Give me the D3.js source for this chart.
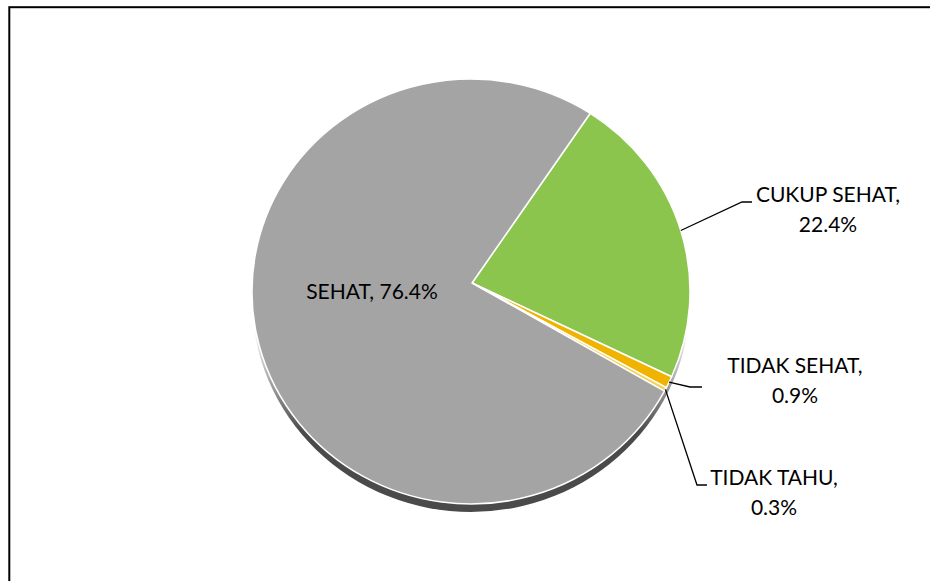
<!DOCTYPE html>
<html>
<head>
<meta charset="utf-8">
<script src="https://cdn.jsdelivr.net/npm/d3@7"></script>
<style>
  html, body { margin: 0; padding: 0; background: #fff; }
  svg { display: block; font-family: Lato, "Open Sans", sans-serif; }
</style>
</head>
<body>
<div id="chart"></div>
<script>
const categories = ['CUKUP SEHAT', 'TIDAK SEHAT', 'TIDAK TAHU', 'SEHAT'];
const values = [22.4, 0.9, 0.3, 76.4];
const colors = ['#8bc54d', '#efb300', '#f4d35a', '#a4a4a4'];

// label placement (layout only)
const labelPos = {
  'CUKUP SEHAT': {x: 828, y: 202, lx: 742, ly: 202, ex: 752},
  'TIDAK SEHAT': {x: 795, y: 373, lx: 690, ly: 387, ex: 702},
  'TIDAK TAHU':  {x: 774, y: 485, lx: 697, ly: 485, ex: 707},
};

const width = 930, height = 581;
const svg = d3.select('#chart').append('svg')
  .attr('width', width)
  .attr('height', height);

svg.append('rect')
  .attr('x', 9.3).attr('y', 7.2)
  .attr('width', 1000).attr('height', 1000)
  .attr('fill', 'none')
  .attr('stroke', '#000')
  .attr('stroke-width', 2);

const cx = 471, cy = 291.5, rx = 219, ry = 212.5;
const apex = [472, 283];
const depth = 8;

const pt = a => [cx + rx * Math.sin(a), cy - ry * Math.cos(a)];
const fmt = p => `${p[0].toFixed(2)},${p[1].toFixed(2)}`;

const pie = d3.pie().sort(null).value(d => d.value)
  .startAngle(33 * Math.PI / 180)
  .endAngle(33 * Math.PI / 180 + 2 * Math.PI);

const data = categories.map((c, i) => ({name: c, value: values[i], color: colors[i]}));
const arcs = pie(data);

// 3D side, fading in towards the bottom
const defs = svg.append('defs');
const grad = defs.append('linearGradient').attr('id', 'sideFade')
  .attr('gradientUnits', 'userSpaceOnUse')
  .attr('x1', 0).attr('y1', cy + 40).attr('x2', 0).attr('y2', cy + 140);
grad.append('stop').attr('offset', 0).attr('stop-color', '#fff').attr('stop-opacity', 0);
grad.append('stop').attr('offset', 1).attr('stop-color', '#fff').attr('stop-opacity', 1);
defs.append('mask').attr('id', 'sideMask')
  .append('rect')
  .attr('x', 0).attr('y', 0)
  .attr('width', width).attr('height', height)
  .attr('fill', 'url(#sideFade)');

svg.append('ellipse')
  .attr('mask', 'url(#sideMask)')
  .attr('cx', cx).attr('cy', cy + depth)
  .attr('rx', rx).attr('ry', ry)
  .attr('fill', '#4a4a4a');

const g = svg.append('g');
g.selectAll('path.slice')
  .data(arcs)
  .join('path')
  .attr('class', 'slice')
  .attr('d', d => {
    const p0 = pt(d.startAngle), p1 = pt(d.endAngle);
    const large = (d.endAngle - d.startAngle) > Math.PI ? 1 : 0;
    return `M${fmt(apex)}L${fmt(p0)}A${rx},${ry} 0 ${large} 1 ${fmt(p1)}Z`;
  })
  .attr('fill', d => d.data.color)
  .attr('stroke', '#fff')
  .attr('stroke-width', 1.5)
  .attr('stroke-linejoin', 'round');

// leader lines
const outer = arcs.filter(d => labelPos[d.data.name]);
svg.selectAll('path.leader')
  .data(outer)
  .join('path')
  .attr('class', 'leader')
  .attr('d', d => {
    const mid = (d.startAngle + d.endAngle) / 2;
    const p = pt(mid);
    const l = labelPos[d.data.name];
    return `M${fmt(p)}L${l.lx},${l.ly}L${l.ex},${l.ly}`;
  })
  .attr('fill', 'none')
  .attr('stroke', '#000')
  .attr('stroke-width', 1.3);

// outside labels
const lbl = svg.selectAll('text.outlabel')
  .data(outer)
  .join('text')
  .attr('class', 'outlabel')
  .attr('text-anchor', 'middle')
  .attr('font-size', 21)
  .attr('fill', '#000');
lbl.append('tspan')
  .attr('x', d => labelPos[d.data.name].x)
  .attr('y', d => labelPos[d.data.name].y)
  .text(d => d.data.name + ',');
lbl.append('tspan')
  .attr('x', d => labelPos[d.data.name].x)
  .attr('y', d => labelPos[d.data.name].y + 29.5)
  .text(d => d.data.value.toFixed(1) + '%');

// inside label for the big slice
const big = arcs.find(d => d.data.name === 'SEHAT');
svg.append('text')
  .attr('x', 372).attr('y', 299)
  .attr('text-anchor', 'middle')
  .attr('font-size', 21)
  .attr('fill', '#000')
  .text(`${big.data.name}, ${big.data.value.toFixed(1)}%`);
</script>
</body>
</html>
